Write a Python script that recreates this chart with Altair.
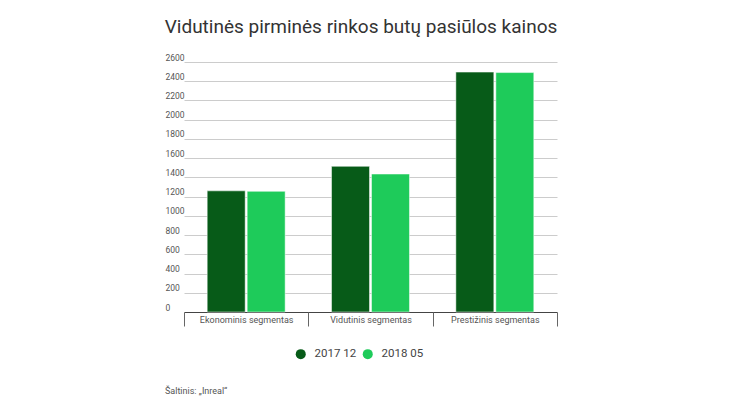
import altair as alt
import pandas as pd

categories = ["Ekonominis segmentas", "Vidutinis segmentas", "Prestižinis segmentas"]
series = ["2017 12", "2018 05"]
values_2017 = [1260, 1515, 2495]
values_2018 = [1255, 1435, 2490]
y_ticks = list(range(0, 2601, 200))
colors = ["#075b18", "#1ecb5a"]

title_text = "Vidutinės pirminės rinkos butų pasiūlos kainos"
source_text = "Šaltinis: „Inreal“"

rows = []
for c, a, b in zip(categories, values_2017, values_2018):
    rows.append({"segmentas": c, "laikas": series[0], "kaina": a})
    rows.append({"segmentas": c, "laikas": series[1], "kaina": b})
df = pd.DataFrame(rows)

W, H = 392, 250
FONT = "Roboto"

bars = alt.Chart(df).mark_bar(stroke="white", strokeWidth=0.5).encode(
    x=alt.X(
        "segmentas:N",
        sort=categories,
        title=None,
        scale=alt.Scale(range=[19, W], paddingInner=0, paddingOuter=0),
        axis=alt.Axis(
            orient="bottom",
            tickBand="extent",
            tickSize=14,
            tickColor="#666",
            tickWidth=1,
            domain=False,
            grid=False,
            labelAngle=0,
            labelFont=FONT,
            labelFontSize=9,
            labelColor="#555",
            labelPadding=-11,
        ),
    ),
    xOffset=alt.XOffset(
        "laikas:N",
        sort=series,
        scale=alt.Scale(paddingInner=0.05, paddingOuter=0.58),
    ),
    y=alt.Y(
        "kaina:Q",
        title=None,
        scale=alt.Scale(domain=[0, 2600], nice=False),
        axis=alt.Axis(
            values=y_ticks,
            format="d",
            orient="left",
            ticks=False,
            tickSize=0,
            domain=False,
            labelAlign="left",
            labelBaseline="alphabetic",
            labelPadding=0,
            labelOffset=-2,
            labelFont=FONT,
            labelFontSize=8.5,
            labelColor="#555",
            gridColor={"condition": {"test": "datum.value === 0", "value": "#444"}, "value": "#cccccc"},
            gridWidth=1,
        ),
    ),
    color=alt.Color(
        "laikas:N",
        sort=series,
        scale=alt.Scale(domain=series, range=colors),
        legend=alt.Legend(
            title=None,
            orient="none",
            legendX=130,
            legendY=286,
            direction="horizontal",
            symbolType="circle",
            symbolSize=100,
            symbolStrokeWidth=0,
            labelFont=FONT,
            labelFontSize=11.5,
            labelColor="#444",
            labelOffset=8,
            columnPadding=5,
            padding=0,
        ),
    ),
)

source = alt.Chart(pd.DataFrame({"t": [source_text]})).mark_text(
    align="left", baseline="alphabetic", font=FONT, fontSize=9, color="#555"
).encode(x=alt.value(0), y=alt.value(332), text="t:N")

chart = alt.layer(bars, source).properties(
    width=W,
    height=H,
    autosize=alt.AutoSizeParams(type="none"),
    padding={"left": 157, "top": 54, "right": 170, "bottom": 96},
    title=alt.TitleParams(
        text=title_text,
        font=FONT,
        fontSize=19,
        fontWeight="normal",
        color="#333",
        anchor="middle",
        baseline="alphabetic",
        offset=1,
    ),
).configure_view(stroke=None)

chart.save("out.html", embed_options={"renderer": "svg", "actions": False})
